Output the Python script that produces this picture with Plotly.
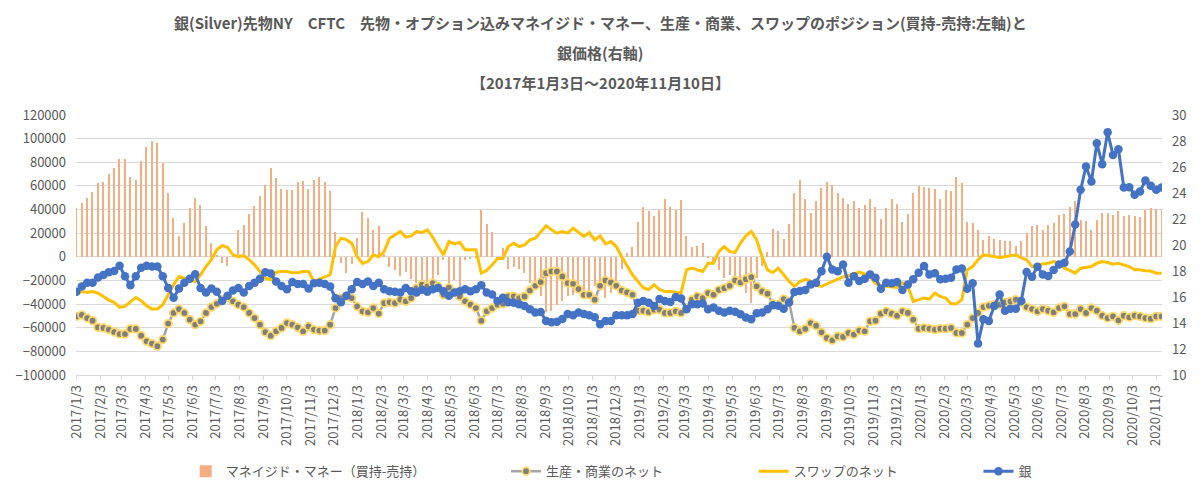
import pandas as pd
import plotly.graph_objects as go

# weekly dates (Tuesdays) 2017/1/3 .. 2020/11/10
dates = pd.date_range("2017-01-03", periods=202, freq="7D")

# Managed money net (long - short), contracts, left axis
managed_money = [
    41100, 45300, 50100, 54900, 62500, 63600, 70000, 74800, 83000, 83000,
    67200, 65000, 81000, 93100, 98200, 96000, 79600, 54300, 33200, 17700,
    29000, 41100, 49500, 43900, 26200, 12100, 1000, -5000, -8000, 2500,
    22800, 27000, 36000, 43000, 51700, 60800, 74800, 66700, 57400, 56300,
    56300, 63000, 64400, 57400, 65000, 67800, 63600, 56000, 21100, -5000,
    -13500, -6000, 15800, 37700, 32700, 22800, 26200, 2500, -9000, -11000,
    -16600, -13000, -19000, -22000, -24000, -30000, -27000, -15000, -3000, -22000,
    -20000, -26000, -3000, -2000, -1000, 39700, 27900, 21400, -2000, 7600,
    -10000, -9000, -10000, -14000, -22000, -27000, -33000, -47000, -46000, -41000,
    -37000, -33000, -32000, -29000, -33000, -29000, -25000, -29000, -35000, -31000,
    -25000, -10000, 3000, 8000, 29300, 42500, 38800, 34900, 39700, 49000,
    42500, 39700, 48100, 17700, 8700, 9300, 12100, -1000, -6000, -11000,
    -17700, -15000, -18000, -19000, -30400, -39000, -17700, -8000, 4500, 23600,
    22000, 15200, 27900, 54000, 65000, 49000, 37400, 47500, 58000, 63600,
    61000, 54300, 50000, 44700, 47500, 41600, 43900, 49000, 42000, 32000,
    41000, 49000, 45000, 29800, 36000, 54300, 60200, 59000, 58000, 57400,
    49000, 56500, 55700, 67800, 62200, 29800, 28400, 22800, 14300, 17700,
    15200, 14300, 13500, 13500, 9500, 13000, 20500, 26200, 27000, 22800,
    27000, 28400, 35400, 36000, 42500, 47300, 31200, 30700, 22800, 31200,
    36900, 36900, 35400, 39100, 34800, 35000, 34800, 33700, 39700, 41100,
    40500, 40500,
]

# Producer / merchant net, left axis
producer_merchant = [
    -50400, -49200, -51800, -54000, -59700, -60200, -61600, -63600, -65300, -65300,
    -61000, -61000, -66700, -71500, -73400, -75600, -70000, -56500, -47500, -44200,
    -47500, -53200, -57400, -54600, -47500, -42500, -39700, -36500, -34000, -37700,
    -40500, -42500, -47500, -51800, -57400, -63800, -66700, -63000, -60200, -56000,
    -57400, -59700, -63000, -58800, -61600, -62400, -62400, -57400, -43300, -34900,
    -33500, -34900, -42000, -46100, -47000, -43300, -48000, -39100, -38500, -39100,
    -36300, -37700, -34900, -26500, -23600, -25000, -22200, -25000, -32100, -26000,
    -30000, -33500, -37700, -40500, -43300, -54000, -46100, -43300, -40500, -39700,
    -33500, -33500, -34900, -33500, -28500, -24500, -21400, -13800, -12400, -12400,
    -16600, -22200, -22800, -27300, -32100, -32100, -36300, -24500, -20000, -21700,
    -24500, -28500, -30100, -32100, -45600, -45600, -46700, -44700, -44700, -47500,
    -47500, -46100, -47500, -43300, -36300, -33500, -34900, -30700, -32100, -27900,
    -26500, -24500, -20000, -21700, -18900, -17200, -25000, -29300, -31200, -39700,
    -40500, -35700, -38000, -60200, -63000, -61000, -56000, -58300, -63900, -68600,
    -70600, -67200, -67800, -64400, -65800, -62400, -63000, -54600, -54000, -48100,
    -46100, -48100, -49800, -46100, -47500, -53200, -60800, -60200, -60800, -61600,
    -60800, -60800, -60200, -64400, -64400, -57400, -51800, -47500, -42500, -41400,
    -40500, -40500, -38500, -37700, -36300, -38500, -42500, -44200, -46100, -44200,
    -45600, -47000, -43300, -41900, -48400, -48400, -44200, -47500, -43300, -45600,
    -49800, -51800, -50400, -53700, -49800, -51200, -49800, -50400, -51800, -52300,
    -50400, -50400,
]

# Swap dealer net, left axis
swap = [
    -29300, -29900, -29900, -29300, -30700, -33500, -36600, -38500, -42800, -42000,
    -38500, -34400, -37200, -41400, -44200, -44200, -40500, -32100, -23600, -16600,
    -18000, -19400, -20800, -15200, -8200, -2500, 5900, 9500, 8000, 1700,
    0, 1000, -2500, -6800, -12000, -18000, -19400, -13000, -12400, -12400,
    -13500, -13500, -12400, -12400, -20800, -19000, -17500, -15200, 8700, 15800,
    14500, 11500, 0, -5600, -4000, 1700, 0, 4500, 15800, 18600,
    21400, 16600, 17700, 21400, 20500, 22800, 16600, 8700, 1700, 12900,
    10900, 12300, 5900, 5900, 5900, -13800, -11500, -6800, -1400, -1400,
    8700, 11500, 8700, 10000, 14300, 15800, 21400, 26200, 22800, 20000,
    21400, 20000, 24200, 20500, 17200, 20500, 14300, 17700, 10900, 12900,
    8700, 0, -8200, -15200, -20800, -26300, -27700, -23600, -27700, -29300,
    -29300, -30100, -30700, -11000, -9600, -11000, -12400, -5400, -5400, 4500,
    8700, 4500, 3700, 11500, 17700, 21400, 14300, 0, -11000, -13300,
    -9600, -15200, -20800, -25000, -21000, -19000, -20500, -24000, -25000, -23000,
    -21000, -19000, -17000, -16000, -14500, -13000, -14500, -16500, -22500, -24500,
    -25000, -25500, -26000, -22000, -25000, -37700, -36300, -34900, -35700, -30700,
    -33500, -34900, -39700, -39700, -36300, -11000, -8200, -2500, 1700, 800,
    0, -500, 0, 800, 1700, -1000, -2500, -8200, -7000, -6000,
    -5400, -4000, -5400, -9600, -11500, -13800, -9600, -9000, -8200, -5400,
    -4000, -4800, -6200, -5500, -6800, -8200, -11000, -11000, -11800, -12000,
    -13800, -13800,
]

# Silver price (USD/oz), right axis
silver = [
    16.4, 16.8, 17.1, 17.1, 17.5, 17.7, 17.9, 18.0, 18.4, 17.6,
    16.9, 17.6, 18.25, 18.4, 18.35, 18.35, 17.6, 16.7, 15.95, 16.65,
    17.1, 17.4, 17.75, 16.7, 16.35, 16.65, 16.4, 15.7, 16.1, 16.5,
    16.7, 16.35, 16.85, 17.1, 17.4, 17.9, 17.8, 17.2, 16.85, 16.6,
    17.15, 17.0, 17.0, 16.65, 17.05, 17.1, 17.0, 16.8, 15.9, 15.6,
    16.1, 16.6, 17.15, 17.0, 17.2, 16.85, 17.1, 16.6, 16.45, 16.4,
    16.35, 16.7, 16.45, 16.35, 16.55, 16.4, 16.6, 16.7, 16.45, 16.1,
    16.35, 16.45, 16.6, 16.45, 16.6, 16.9, 16.35, 16.2, 15.7, 15.95,
    15.6, 15.55, 15.45, 15.3, 15.05, 14.8, 14.85, 14.15, 14.05, 14.1,
    14.3, 14.7, 14.6, 14.8, 14.7, 14.6, 14.45, 13.9, 14.15, 14.15,
    14.6, 14.6, 14.6, 14.7, 15.55, 15.7, 15.55, 15.3, 15.85, 15.7,
    15.62, 16.0, 15.88, 15.06, 15.45, 15.45, 15.5, 15.06, 15.2, 14.94,
    14.8, 14.94, 14.86, 14.68, 14.42, 14.29, 14.75, 14.8, 15.06, 15.37,
    15.32, 15.1, 15.57, 16.38, 16.46, 16.54, 16.97, 17.1, 17.99, 19.1,
    18.12, 17.99, 18.5, 17.1, 17.6, 17.23, 17.41, 17.74, 17.48, 16.64,
    17.1, 17.05, 17.15, 16.54, 16.97, 17.36, 17.87, 18.38, 17.74, 17.82,
    17.36, 17.41, 17.48, 18.12, 18.2, 16.64, 17.05, 12.43, 14.29, 14.16,
    15.3, 16.2, 14.94, 15.1, 15.1, 15.7, 17.92, 17.56, 18.33, 17.74,
    17.61, 18.07, 18.5, 18.63, 19.5, 21.57, 24.25, 26.04, 24.89, 27.83,
    26.22, 28.67, 26.93, 27.37, 24.43, 24.45, 23.87, 24.12, 24.97, 24.56,
    24.25, 24.43,
]

for arr in (managed_money, producer_merchant, swap, silver):
    assert len(arr) == len(dates), len(arr)

# monthly tick labels on the 3rd of each month
tick_dates = [pd.Timestamp(y, m, 3) for y in range(2017, 2021) for m in range(1, 13)
              if (y, m) <= (2020, 11)]
tick_text = [f"{d.year}/{d.month}/{d.day}" for d in tick_dates]

title_lines = [
    "銀(Silver)先物NY　CFTC　先物・オプション込みマネイジド・マネー、生産・商業、スワップのポジション(買持-売持:左軸)と",
    "銀価格(右軸)",
    "【2017年1月3日～2020年11月10日】",
]

FONT = "Noto Sans CJK JP"
GREY = "#595959"
DAY = 86400000

fig = go.Figure()
fig.add_trace(go.Bar(
    x=dates, y=managed_money, name="マネイジド・マネー（買持-売持）",
    marker=dict(color="#F4AE82", line=dict(width=0)), width=1.6 * DAY,
    legend="legend", showlegend=True,
))
fig.add_trace(go.Scatter(
    x=dates, y=producer_merchant, name="生産・商業のネット", mode="lines+markers",
    line=dict(color="#A5A5A5", width=2.5),
    marker=dict(size=7.5, color="#7F7F7F", line=dict(color="#FFD966", width=1.8)),
    legend="legend2", showlegend=True,
))
fig.add_trace(go.Scatter(
    x=dates, y=swap, name="スワップのネット", mode="lines",
    line=dict(color="#FFC000", width=3),
    legend="legend3", showlegend=True,
))
fig.add_trace(go.Scatter(
    x=dates, y=silver, name="銀", mode="lines+markers",
    line=dict(color="#4472C4", width=3),
    marker=dict(size=8.5, color="#4472C4"),
    yaxis="y2", legend="legend4", showlegend=True,
))

x0 = dates[0] - pd.Timedelta(hours=12)
x1 = dates[-1] + pd.Timedelta(hours=12)

leg = dict(orientation="h", yanchor="middle", y=-0.365, xanchor="left",
           font=dict(family=FONT, size=13, color=GREY), bgcolor="rgba(0,0,0,0)",
           itemwidth=30, visible=True)

fig.update_layout(
    width=1200, height=497,
    margin=dict(l=76, r=38, t=115, b=121),
    paper_bgcolor="white", plot_bgcolor="white",
    font=dict(family=FONT, size=13, color=GREY),
    showlegend=True,
    bargap=0,
    xaxis=dict(
        type="date", range=[x0, x1], tickmode="array", tickvals=tick_dates,
        ticktext=tick_text, tickangle=-90, showgrid=False, showline=True,
        linecolor="#D9D9D9", ticks="outside", ticklen=4, tickcolor="#D9D9D9",
        tickfont=dict(family=FONT, size=13, color=GREY),
    ),
    yaxis=dict(
        range=[-100000, 120000], dtick=20000, tickformat="d", showgrid=True,
        gridcolor="#D9D9D9", gridwidth=1, zeroline=False, ticklabelstandoff=9,
        tickfont=dict(family=FONT, size=13, color=GREY),
    ),
    yaxis2=dict(
        overlaying="y", side="right", range=[10, 30], dtick=2, showgrid=False,
        zeroline=False, ticklabelstandoff=9,
        tickfont=dict(family=FONT, size=13, color=GREY),
    ),
    legend=dict(x=0.101, **leg),
    legend2=dict(x=0.396, **leg),
    legend3=dict(x=0.624, **leg),
    legend4=dict(x=0.831, **leg),
)

for ty, line in zip([22, 52, 82], title_lines):
    fig.add_annotation(
        text=f"<b>{line}</b>", xref="paper", yref="paper",
        x=(600 - 76) / 1086, y=(376 - ty) / 261, xanchor="center", yanchor="middle",
        showarrow=False, font=dict(family=FONT, size=15, color=GREY),
    )

fig.write_html("out.html", config={"displayModeBar": False},
               post_script="document.body.style.margin='0';")
